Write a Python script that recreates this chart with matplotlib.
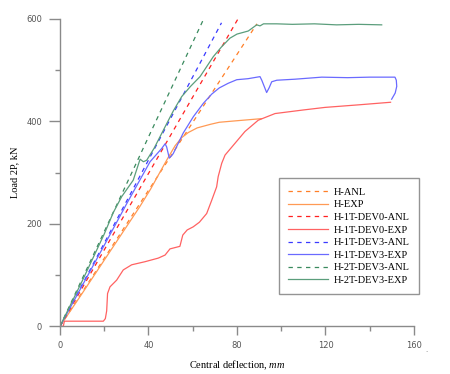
import matplotlib
matplotlib.use("Agg")
import matplotlib.pyplot as plt
from matplotlib.ticker import MultipleLocator

# analytical (straight) lines
h_anl_x = [0, 89]
h_anl_y = [0, 590]
dev0_anl_x = [0, 80.5]
dev0_anl_y = [0, 600]
dev3_anl_x = [0, 73]
dev3_anl_y = [0, 592]
t2_anl_x = [0, 65]
t2_anl_y = [0, 600]

# experimental curves
h_exp_x = [0, 10, 20, 30, 36, 41, 46, 49, 52, 55, 58, 62, 68, 72, 80, 91]
h_exp_y = [0, 64, 129, 194, 233, 268, 307, 330, 352, 368, 378, 387, 394, 398, 401, 405]

dev0_exp_x = [0, 1.5, 2, 19.6, 20.5, 21.1, 21.5, 22.6, 25.6, 28.6, 32.4, 38.4, 44.4,
              47.5, 49.7, 54.2, 55.5, 57.5, 60.2, 63, 66.3, 68.5, 70.8, 71.5, 73.1,
              74.6, 79.1, 83.6, 89.6, 97.2, 110, 119.8, 135, 149.4]
dev0_exp_y = [0, 0, 10, 10, 15, 30, 64, 77, 90, 110, 120, 126, 133,
              139, 151, 156, 178, 188, 194, 203, 220, 245, 272, 292, 318,
              334, 357, 380, 402, 415, 422, 427, 432, 437]

dev3_exp_x = [0, 10, 20, 30, 40.7, 46, 47.5, 48.2, 49.4, 50.5, 51.2, 55.7, 60.3, 64.8,
              68.6, 72, 76, 79.9, 85, 90.4, 91.2, 93.4, 94.5, 95.7, 98, 106.2, 118.3,
              130, 140, 151.4, 152, 152.2, 151.5, 149.9]
dev3_exp_y = [0, 79, 158, 238, 321, 347, 356, 350, 328, 333, 337, 377, 409, 435,
              453, 465, 474, 481, 483, 487, 480, 456, 465, 477, 480, 482, 486,
              485, 486, 486, 480, 468, 455, 443]

t2_exp_x = [0, 10, 20, 24.1, 27.9, 33.1, 36.2, 37.7, 39.2, 42.5, 48.2, 51.2, 55, 59,
            63.3, 69.3, 73, 76.8, 80, 85.1, 88.9, 90.4, 92, 97.9, 105, 115, 125, 135, 145.4]
t2_exp_y = [0, 88, 180, 222, 253, 285, 326, 321, 324, 347, 395, 420, 448, 468,
            487, 526, 545, 562, 570, 576, 588, 586, 590, 590, 589, 590, 588, 589, 588]

x_ticks = [0, 40, 80, 120, 160]
y_ticks = [0, 200, 400, 600]

plt.rcParams["font.family"] = ["DejaVu Sans"]
plt.rcParams["mathtext.fontset"] = "custom"
plt.rcParams["mathtext.it"] = "Liberation Serif:italic"
plt.rcParams["mathtext.rm"] = "Liberation Serif"
serif = "Liberation Serif"

fig = plt.figure(figsize=(4.5, 3.74), dpi=100)
ax = fig.add_axes([0.1333, 0.1275, 0.7867, 0.8225])

dash = (0, (3.5, 3.5))
ax.plot(h_anl_x, h_anl_y, color="#ff7f27", lw=0.9, ls=dash, label="H-ANL")
ax.plot(h_exp_x, h_exp_y, color="#ff9a55", lw=0.9, label="H-EXP")
ax.plot(dev0_anl_x, dev0_anl_y, color="#ff2020", lw=0.9, ls=dash, label="H-1T-DEV0-ANL")
ax.plot(dev0_exp_x, dev0_exp_y, color="#ff6262", lw=0.9, label="H-1T-DEV0-EXP")
ax.plot(dev3_anl_x, dev3_anl_y, color="#3a3aff", lw=0.9, ls=dash, label="H-1T-DEV3-ANL")
ax.plot(dev3_exp_x, dev3_exp_y, color="#6a6aff", lw=0.9, label="H-1T-DEV3-EXP")
ax.plot(t2_anl_x, t2_anl_y, color="#3a8a5e", lw=0.9, ls=dash, label="H-2T-DEV3-ANL")
ax.plot(t2_exp_x, t2_exp_y, color="#5b9e7c", lw=0.9, label="H-2T-DEV3-EXP")

ax.set_xlim(0, 160)
ax.set_ylim(0, 600)
ax.set_xticks(x_ticks)
ax.set_yticks(y_ticks)
ax.xaxis.set_minor_locator(MultipleLocator(20))
ax.yaxis.set_minor_locator(MultipleLocator(100))

for s in ["top", "right"]:
    ax.spines[s].set_visible(False)
for s in ["left", "bottom"]:
    ax.spines[s].set_color("#8a8a8a")
    ax.spines[s].set_linewidth(1.0)

ax.tick_params(axis="y", which="major", length=8, width=1, color="#8a8a8a",
               labelsize=6, labelcolor="#555555", pad=5)
ax.tick_params(axis="y", which="minor", length=3.6, width=1, color="#8a8a8a")
ax.tick_params(axis="x", which="major", length=6.5, width=1, color="#8a8a8a",
               labelsize=6, labelcolor="#555555", pad=4)
ax.tick_params(axis="x", which="minor", length=3.6, width=1, color="#8a8a8a")

ax.set_xlabel("Central deflection, $mm$", fontfamily=serif, fontsize=7.5, labelpad=6)
ax.set_ylabel("Load 2P, kN", fontfamily=serif, fontsize=7.5, labelpad=5)

leg = ax.legend(loc="upper left", bbox_to_anchor=(0.62, 0.524), bbox_transform=fig.transFigure,
                borderaxespad=0, prop={"family": serif, "size": 7.5}, fancybox=False,
                edgecolor="#7a7a7a", handlelength=3.8, handletextpad=0.6,
                labelspacing=0.32, borderpad=0.9)
leg.get_frame().set_linewidth(1.0)

fig.text(0.946, 0.058, ".", fontsize=5, color="#777777")

fig.savefig("out.png", dpi=100)
